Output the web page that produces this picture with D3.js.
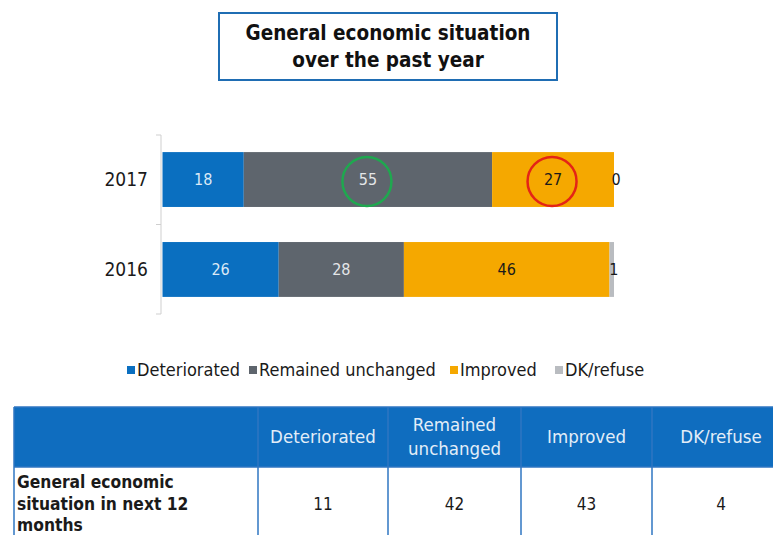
<!DOCTYPE html>
<html>
<head>
<meta charset="utf-8">
<script src="https://cdn.jsdelivr.net/npm/d3@7"></script>
<style>
  html, body { margin: 0; padding: 0; background: #ffffff; }
  svg { display: block; }
</style>
</head>
<body>
<svg id="chart" width="773" height="535"></svg>
<script>
// ---------- data ----------
const titleLines = ["General economic situation", "over the past year"];
const years = ["2017", "2016"];
const categories = ["Deteriorated", "Remained unchanged", "Improved", "DK/refuse"];
const deteriorated = [18, 26];
const remainedUnchanged = [55, 28];
const improved = [27, 46];
const dkRefuse = [0, 1];
const highlightYear = ["2017", "2017"];
const highlightCategory = ["Remained unchanged", "Improved"];
const tableRowLabel = ["General economic", "situation in next 12", "months"];
const tableHeaders = [["Deteriorated"], ["Remained", "unchanged"], ["Improved"], ["DK/refuse"]];
const tableValues = [11, 42, 43, 4];

// ---------- styles ----------
const colors = ["#0a6fc0", "#5e656d", "#f5a800", "#b9bcc0"];
const labelColors = ["#dbe9f6", "#e4e6e8", "#1a1a1a", "#1a1a1a"];
const highlightColors = ["#1fa84f", "#e42416"];
const FONT = "'DejaVu Sans Condensed', 'DejaVu Sans', sans-serif";

const svg = d3.select("#chart");

// ---------- title box ----------
svg.append("rect")
  .attr("x", 219).attr("y", 13).attr("width", 338).attr("height", 67)
  .attr("fill", "#fff").attr("stroke", "#1f6db3").attr("stroke-width", 2);
svg.append("g").selectAll("text").data(titleLines).join("text")
  .attr("x", 388).attr("y", (d, i) => 40 + i * 27)
  .attr("text-anchor", "middle")
  .attr("font-family", FONT).attr("font-weight", "bold").attr("font-size", 20.5)
  .attr("fill", "#111").text(d => d);

// ---------- stacked bar ----------
const rows = years.map((y, i) => ({
  year: y,
  "Deteriorated": deteriorated[i],
  "Remained unchanged": remainedUnchanged[i],
  "Improved": improved[i],
  "DK/refuse": dkRefuse[i]
}));
const series = d3.stack().keys(categories).offset(d3.stackOffsetExpand)(rows);

const x = d3.scaleLinear().domain([0, 1]).range([162.5, 614]);
const y = d3.scaleBand().domain(years).range([135, 314]).paddingInner(0.39).paddingOuter(0.19);

const gBars = svg.append("g");
series.forEach((s, si) => {
  gBars.append("g").selectAll("rect").data(s).join("rect")
    .attr("x", d => x(d[0]))
    .attr("y", d => y(d.data.year))
    .attr("width", d => Math.max(0, x(d[1]) - x(d[0])))
    .attr("height", y.bandwidth())
    .attr("fill", colors[si]);
});

// data labels
series.forEach((s, si) => {
  gBars.append("g").selectAll("text").data(s).join("text")
    .attr("x", d => {
      const cx = (x(d[0]) + x(d[1])) / 2;
      return (x(d[1]) - x(d[0]) < 6) ? cx + 2 : cx;
    })
    .attr("y", d => y(d.data.year) + y.bandwidth() / 2)
    .attr("dy", "0.35em")
    .attr("text-anchor", "middle")
    .attr("font-family", FONT).attr("font-size", 16)
    .attr("fill", d => (x(d[1]) - x(d[0]) < 6) ? "#1a1a1a" : labelColors[si])
    .text(d => d.data[s.key]);
});

// highlight circles
highlightYear.forEach((yr, i) => {
  const si = categories.indexOf(highlightCategory[i]);
  const d = series[si].find(e => e.data.year === yr);
  const cx = (x(d[0]) + x(d[1])) / 2;
  const cy = y(yr) + y.bandwidth() / 2 + 2;
  svg.append("circle")
    .attr("cx", cx - 1).attr("cy", cy)
    .attr("r", 24.5)
    .attr("fill", "none").attr("stroke", highlightColors[i]).attr("stroke-width", 2.5);
});

// y axis
const axisX = 161;
const yTicks = [y.range()[0]];
years.forEach((yr, i) => {
  if (i < years.length - 1) {
    yTicks.push((y(yr) + y.bandwidth() + y(years[i + 1])) / 2);
  }
});
yTicks.push(y.range()[1]);
svg.append("line")
  .attr("x1", axisX).attr("x2", axisX)
  .attr("y1", y.range()[0]).attr("y2", y.range()[1])
  .attr("stroke", "#cfcfcf").attr("stroke-width", 1);
svg.append("g").selectAll("line").data(yTicks).join("line")
  .attr("x1", axisX - 5).attr("x2", axisX)
  .attr("y1", d => d).attr("y2", d => d)
  .attr("stroke", "#cfcfcf").attr("stroke-width", 1);
svg.append("g").selectAll("text").data(years).join("text")
  .attr("x", 148)
  .attr("y", d => y(d) + y.bandwidth() / 2)
  .attr("dy", "0.35em")
  .attr("text-anchor", "end")
  .attr("font-family", FONT).attr("font-size", 19)
  .attr("fill", "#1a1a1a").text(d => d);

// ---------- legend ----------
const legendX = [127, 249, 450, 555];
const gLeg = svg.append("g");
categories.forEach((c, i) => {
  gLeg.append("rect")
    .attr("x", legendX[i]).attr("y", 366).attr("width", 8).attr("height", 8)
    .attr("fill", colors[i]);
  gLeg.append("text")
    .attr("x", legendX[i] + 10).attr("y", 370).attr("dy", "0.35em")
    .attr("font-family", FONT).attr("font-size", 18)
    .attr("fill", "#1a1a1a").text(c);
});

// ---------- table ----------
const colEdges = [14, 258, 388, 521, 652, 790];
const tTop = 407, tHead = 467, tBottom = 560;
const headFill = "#0f6dbf", border = "#2f76c2";

svg.append("rect")
  .attr("x", colEdges[0]).attr("y", tTop)
  .attr("width", colEdges[colEdges.length - 1] - colEdges[0]).attr("height", tHead - tTop)
  .attr("fill", headFill);
svg.append("g").selectAll("line").data(colEdges).join("line")
  .attr("x1", d => d).attr("x2", d => d)
  .attr("y1", tTop).attr("y2", tBottom)
  .attr("stroke", border).attr("stroke-width", 1.5);
svg.append("line").attr("x1", colEdges[0]).attr("x2", 790)
  .attr("y1", tTop).attr("y2", tTop).attr("stroke", border).attr("stroke-width", 1.5);
svg.append("line").attr("x1", colEdges[0]).attr("x2", 790)
  .attr("y1", tHead).attr("y2", tHead).attr("stroke", border).attr("stroke-width", 1.5);
tableHeaders.forEach((lines, i) => {
  const cx = (colEdges[i + 1] + colEdges[i + 2]) / 2;
  const cy = (tTop + tHead) / 2;
  lines.forEach((t, j) => {
    svg.append("text")
      .attr("x", cx)
      .attr("y", cy + (j - (lines.length - 1) / 2) * 24)
      .attr("dy", "0.35em")
      .attr("text-anchor", "middle")
      .attr("font-family", FONT).attr("font-size", 18.5)
      .attr("fill", "#e3edf8").text(t);
  });
});
tableRowLabel.forEach((t, j) => {
  svg.append("text")
    .attr("x", 17).attr("y", 482 + j * 21.5).attr("dy", "0.35em")
    .attr("font-family", FONT).attr("font-weight", "bold").attr("font-size", 17.3)
    .attr("fill", "#1a1a1a").text(t);
});
tableValues.forEach((v, i) => {
  svg.append("text")
    .attr("x", (colEdges[i + 1] + colEdges[i + 2]) / 2)
    .attr("y", 504).attr("dy", "0.35em")
    .attr("text-anchor", "middle")
    .attr("font-family", FONT).attr("font-size", 17)
    .attr("fill", "#1a1a1a").text(v);
});
</script>
</body>
</html>
